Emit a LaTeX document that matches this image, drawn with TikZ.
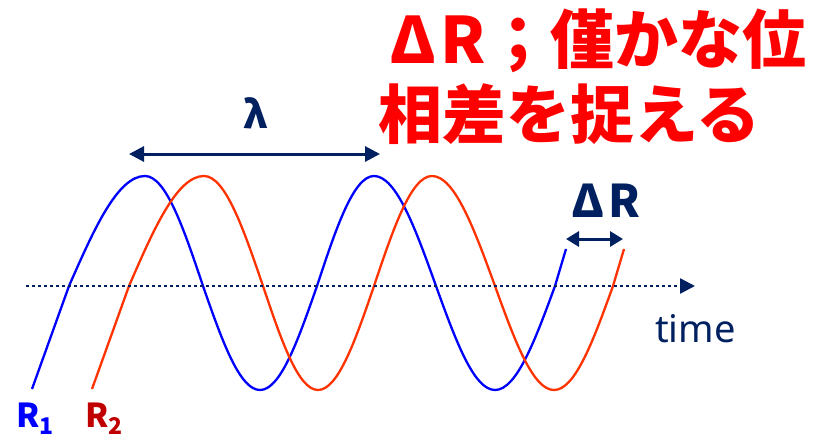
\documentclass[tikz,border=0pt]{standalone}
\usepackage{fontspec}
\setmainfont{Noto Sans}
\newfontfamily\cjk{Noto Sans CJK JP}
\usetikzlibrary{arrows.meta}
\definecolor{navy}{RGB}{0,32,96}
\definecolor{wblue}{RGB}{0,0,255}
\definecolor{wred}{RGB}{255,51,0}
\definecolor{dred}{RGB}{192,0,0}
\definecolor{tred}{RGB}{255,0,0}
\begin{document}
\begin{tikzpicture}[x=1pt,y=-1pt,
  wave/.style={line width=2.3pt},
  dimarrow/.style={navy, line width=3pt, {Triangle[length=15pt,width=15pt]}-{Triangle[length=15pt,width=15pt]}},
  smallarrow/.style={navy, line width=3pt, {Triangle[length=13pt,width=15pt]}-{Triangle[length=13pt,width=15pt]}},
  axisline/.style={navy, line width=2.6pt, dash pattern=on 2.6pt off 3.4pt, -{Triangle[length=15pt,width=15pt]}},
  title/.style={text=tred, inner sep=0pt, anchor=base west, font=\cjk\bfseries\fontsize{64}{64}\selectfont},
  navylbl/.style={text=navy, inner sep=0pt, font=\cjk\bfseries\fontsize{45}{45}\selectfont},
  rlbl/.style={inner sep=0pt, anchor=base west, font=\cjk\bfseries\fontsize{33}{33}\selectfont}
]
\useasboundingbox (0,0) rectangle (816,439);
% title
\node[title] (t1) at (387,63) {\makebox[52pt]{Δ}\makebox[47pt]{R}；僅かな位};
\node[title] (t2) at (378,138) {相差を捉える};
% waves
\draw[wave, wblue] (32,389) -- (69,286) sin (145,176) cos (203,286) sin (260,390) cos (317,286) sin (374,176) cos (436,286) sin (495,390) cos (555,286) -- (566,249);
\draw[wave, wred] (92,389) -- (129,286) sin (204,176) cos (263,286) sin (318,390) cos (374,286) sin (432,176) cos (495,286) sin (554,390) cos (613,286) -- (624,249);
% axis
\coordinate (ax0) at (26,286);
\coordinate (ax1) at (695,286);
\draw[axisline] (ax0) -- (ax1);
\node[text=navy, inner sep=0pt, anchor=base west, font=\fontsize{38}{38}\selectfont] (time) at (655,342) {time};
% lambda
\coordinate (la) at (129,154);
\coordinate (lb) at (380,154);
\draw[dimarrow] (la) -- (lb);
\node[navylbl, anchor=base, font=\cjk\bfseries\fontsize{38}{38}\selectfont] (lam) at (256,128) {λ};
% Delta R
\coordinate (da) at (566,239);
\coordinate (db) at (623,239);
\draw[smallarrow] (da) -- (db);
\node[navylbl, anchor=base west] (dr) at (571,217) {Δ\kern4pt R};
% R labels
\node[rlbl, text=wblue] (r1) at (16,427) {R\raisebox{-7pt}{\fontsize{23}{23}\selectfont 1}};
\node[rlbl, text=dred] (r2) at (85,427) {R\raisebox{-7pt}{\fontsize{23}{23}\selectfont 2}};
\end{tikzpicture}
\end{document}
